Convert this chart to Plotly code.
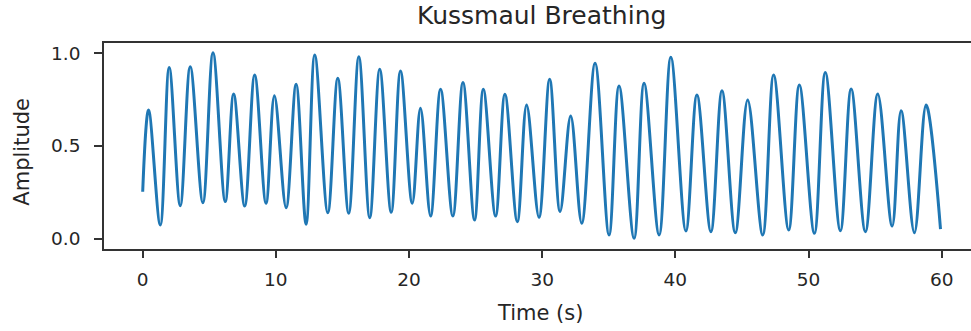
import plotly.graph_objects as go

# Breathing signal extrema (time in s, normalised amplitude)
time_s = [0.0, 0.44, 1.32, 1.99, 2.82, 3.57, 4.52, 5.28, 6.2, 6.83, 7.66, 8.41, 9.26, 9.89,
          10.77, 11.52, 12.27, 12.92, 13.9, 14.65, 15.47, 16.23, 17.05, 17.8, 18.66, 19.36,
          20.24, 20.86, 21.62, 22.37, 23.29, 24.05, 24.92, 25.58, 26.5, 27.2, 28.13, 28.83,
          29.76, 30.56, 31.34, 32.14, 32.97, 33.97, 35.02, 35.77, 36.9, 37.65, 38.78, 39.66,
          40.79, 41.62, 42.67, 43.5, 44.5, 45.43, 46.56, 47.38, 48.51, 49.31, 50.44, 51.26,
          52.39, 53.2, 54.27, 55.2, 56.28, 56.95, 57.95, 58.83, 59.91]
amplitude = [0.253, 0.694, 0.074, 0.924, 0.178, 0.928, 0.194, 1.003, 0.2, 0.78, 0.176, 0.883,
             0.191, 0.771, 0.167, 0.833, 0.078, 0.991, 0.14, 0.865, 0.137, 0.982, 0.113, 0.914,
             0.142, 0.905, 0.191, 0.703, 0.122, 0.806, 0.122, 0.843, 0.101, 0.806, 0.122, 0.779,
             0.092, 0.721, 0.115, 0.86, 0.146, 0.662, 0.083, 0.946, 0.02, 0.824, 0.002, 0.838,
             0.02, 0.978, 0.042, 0.775, 0.038, 0.798, 0.032, 0.748, 0.02, 0.883, 0.047, 0.829,
             0.029, 0.897, 0.043, 0.807, 0.038, 0.78, 0.068, 0.69, 0.032, 0.721, 0.052]

x_ticks = [0, 10, 20, 30, 40, 50, 60]
x_tick_labels = ["0", "10", "20", "30", "40", "50", "60"]
y_ticks = [0.0, 0.5, 1.0]
y_tick_labels = ["0.0", "0.5", "1.0"]

title_text = "Kussmaul Breathing"
x_label = "Time (s)"
y_label = "Amplitude"

FONT = "DejaVu Sans"
TXT = "#262626"
SPINE = "#333333"

fig = go.Figure()
fig.add_trace(go.Scatter(
    x=time_s, y=amplitude, mode="lines",
    line=dict(color="#1f77b4", width=3, shape="spline", smoothing=1.0),
    showlegend=False, hoverinfo="skip",
))

fig.update_layout(
    width=971, height=331,
    margin=dict(l=104, r=0, t=43, b=82, pad=0),
    paper_bgcolor="white", plot_bgcolor="white",
    font=dict(family=FONT, color=TXT, size=18),
    showlegend=False,
    xaxis=dict(
        range=[-2.906, 62.2], tickvals=x_ticks, ticktext=x_tick_labels,
        showgrid=False, zeroline=False,
        showline=True, linecolor=SPINE, linewidth=1.6, mirror=True,
        ticks="outside", ticklen=7, tickwidth=1.6, tickcolor=SPINE,
        tickfont=dict(family=FONT, size=18.5, color=TXT),
        ticklabelstandoff=6,
    ),
    yaxis=dict(
        range=[-0.0556, 1.0555], tickvals=y_ticks, ticktext=y_tick_labels,
        showgrid=False, zeroline=False,
        showline=True, linecolor=SPINE, linewidth=1.6, mirror=False,
        ticks="outside", ticklen=8, tickwidth=1.6, tickcolor=SPINE,
        tickfont=dict(family=FONT, size=18.5, color=TXT),
        ticklabelstandoff=10,
    ),
    annotations=[
        dict(text=title_text, xref="paper", yref="paper", x=(541 - 104) / 867, y=1 + 28 / 206,
             xanchor="center", yanchor="middle", showarrow=False,
             font=dict(family=FONT, size=25, color=TXT)),
        dict(text=x_label, xref="paper", yref="paper", x=(540 - 104) / 867, y=-64 / 206,
             xanchor="center", yanchor="middle", showarrow=False,
             font=dict(family=FONT, size=21, color=TXT)),
        dict(text=y_label, xref="paper", yref="paper", x=-(104 - 22.5) / 867, y=0.47,
             xanchor="center", yanchor="middle", showarrow=False, textangle=-90,
             font=dict(family=FONT, size=21, color=TXT)),
    ],
)

fig.write_html("out.html")
